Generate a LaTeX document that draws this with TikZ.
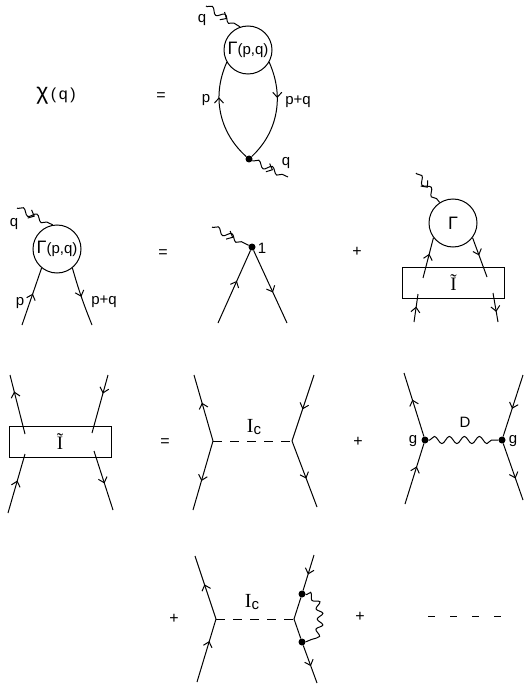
\documentclass[tikz,border=0pt]{standalone}
\usepackage{fontspec}
\setmainfont{Liberation Sans}
\newfontfamily\serfont{Liberation Serif}
\usetikzlibrary{arrows.meta,decorations.pathmorphing,decorations.markings}
\newcommand{\Itil}{{\serfont\fontsize{19}{20}\selectfont\~{I}}}
\newcommand{\Ic}{{\serfont\fontsize{20}{20}\selectfont I}\raisebox{-2pt}{c}}
\newcommand{\Gam}{{\fontsize{18}{18}\selectfont Γ}}
\begin{document}
\begin{tikzpicture}[x=1pt,y=-1pt,
    lab/.style={inner sep=0pt, font=\fontsize{15}{16}\selectfont},
    sym/.style={inner sep=0pt, font=\fontsize{16}{16}\selectfont},
    blob/.style={circle, draw, line width=1pt, minimum size=48pt, inner sep=0pt, font=\fontsize{15}{16}\selectfont},
    kbox/.style={rectangle, draw, line width=1pt, minimum width=102pt, minimum height=31pt, inner sep=0pt},
    vtx/.style={circle, fill=black, minimum size=7pt, inner sep=0pt},
    fline/.style={line width=1pt, postaction={decorate}, decoration={markings, mark=at position #1 with {\arrow{Straight Barb[length=5pt,width=9pt]}}}},
    fmark/.style={line width=1pt, postaction={decorate}, decoration={markings, mark=at position #1 with {\arrow{Straight Barb[length=5pt,width=9pt]}}}},
    wavy/.style={line width=1pt, decorate, decoration={snake, amplitude=3pt, segment length=15pt, pre length=1pt, post length=1pt}},
    cdash/.style={line width=0.8pt, dash pattern=on 9pt off 8pt}
  ]
  \useasboundingbox (0,0) rectangle (523,687);
  % first line
  \node[lab] (chi) at (56,96) {{\fontsize{23}{23}\selectfont χ}\,\fontsize{16}{16}\selectfont(\,q\,)};
  \node[sym] (eqa) at (161,97) {=};
  \node[blob] (ga) at (248,50) {\Gam(p,q)};
  \node[vtx] (va) at (249,159) {};
  \coordinate (wa) at (206,6);
  \coordinate (wb) at (288,177);
  \draw[wavy] (wa) -- (ga.109);
  \path[fmark=.62] (wa) -- (ga.109);
  \draw[wavy] (va) -- (wb);
  \path[fmark=.58] (va) -- (wb);
  \draw[fline=.65] (va) .. controls (222,135) and (210,100) .. (ga.210);
  \draw[fline=.36] (ga.330) .. controls (286,100) and (275,135) .. (va);
  \node[lab] (qa) at (202,20) {q};
  \node[lab] (pa) at (206,100) {p};
  \node[lab] (pqa) at (298,102) {p+q};
  \node[lab] (qb) at (286,163) {q};
  % second line
  \node[blob] (gb) at (57,249) {\Gam(p,q)};
  \coordinate (wc) at (17,208);
  \coordinate (la) at (22,325);
  \coordinate (lb) at (92,325);
  \draw[wavy] (wc) -- (gb.100);
  \path[fmark=.5] (wc) -- (gb.100);
  \draw[fline=.55] (la) -- (gb.231);
  \draw[fline=.5] (gb.309) .. controls (80,295) and (86,310) .. (lb);
  \node[lab] (qc) at (14,224) {q};
  \node[lab] (pb) at (20,303) {p};
  \node[lab] (pqb) at (104,302) {p+q};
  \node[sym] (eqb) at (163,254) {=};
  \node[vtx] (vb) at (252,247) {};
  \coordinate (wd) at (212,227);
  \coordinate (lc) at (218,323);
  \coordinate (ld) at (287,323);
  \draw[wavy] (wd) -- (vb);
  \path[fmark=.58] (wd) -- (vb);
  \draw[fline=.58] (lc) -- (vb);
  \draw[fline=.58] (vb) -- (ld);
  \node[lab] (one) at (262,248) {1};
  \node[sym] (pla) at (357,252) {+};
  \node[blob] (gc) at (453,223) {\Gam};
  \node[kbox] (ka) at (453.5,283) {\Itil};
  \coordinate (we) at (416,173);
  \coordinate (ia) at (423,278);
  \coordinate (ib) at (487,277);
  \coordinate (ic) at (418,294);
  \coordinate (id) at (414,322);
  \coordinate (ie) at (493,293);
  \coordinate (if) at (498,322);
  \draw[wavy] (we) -- (gc.123);
  \path[fmark=.5] (we) -- (gc.123);
  \draw[fline=.6] (ia) -- (gc.217);
  \draw[fline=.45] (gc.323) -- (ib);
  \draw[fline=.55] (id) -- (ic);
  \draw[fline=.65] (ie) -- (if);
  % third line
  \node[kbox] (kb) at (60,442) {\Itil};
  \coordinate (ja) at (25,434);
  \coordinate (jb) at (10,375);
  \coordinate (jc) at (108,375);
  \coordinate (jd) at (92,433);
  \coordinate (je) at (8,513);
  \coordinate (jf) at (25,454);
  \coordinate (jg) at (94,451);
  \coordinate (jh) at (113,510);
  \draw[fline=.72] (ja) -- (jb);
  \draw[fline=.32] (jc) -- (jd);
  \draw[fline=.55] (je) -- (jf);
  \draw[fline=.55] (jg) -- (jh);
  \node[sym] (eqc) at (165,443) {=};
  \coordinate (va1) at (213,441);
  \coordinate (va2) at (292,441);
  \coordinate (ka1) at (194,375);
  \coordinate (ka2) at (193,510);
  \coordinate (ka3) at (314,375);
  \coordinate (ka4) at (317,507);
  \draw[cdash] (va1) -- (va2);
  \draw[fline=.58] (va1) -- (ka1);
  \draw[fline=.58] (va1) -- (ka2);
  \draw[fline=.52] (ka3) -- (va2);
  \draw[fline=.57] (va2) -- (ka4);
  \node[lab] (ica) at (254,427) {\Ic};
  \node[sym] (plb) at (358,442) {+};
  \node[vtx] (vc) at (425,440) {};
  \node[vtx] (vd) at (502,440) {};
  \coordinate (kb1) at (404,373);
  \coordinate (kb2) at (405,504);
  \coordinate (kb3) at (523,375);
  \coordinate (kb4) at (523,500);
  \draw[wavy, decoration={snake, amplitude=3.6pt}] (vc) -- (vd);
  \draw[fline=.58] (vc) -- (kb1);
  \draw[fline=.62] (kb2) -- (vc);
  \draw[fline=.55] (kb3) -- (vd);
  \draw[fline=.62] (vd) -- (kb4);
  \node[lab] (d) at (465,422) {D};
  \node[lab] (ga1) at (413,441) {g};
  \node[lab] (ga2) at (513,441) {g};
  % fourth line
  \node[sym] (plc) at (174,619) {+};
  \coordinate (ve) at (216,619);
  \coordinate (vf) at (294,619);
  \coordinate (kc1) at (195,556);
  \coordinate (kc2) at (197,682);
  \coordinate (kc3) at (314,555);
  \coordinate (kc4) at (317,683);
  \node[vtx] (vg) at (302,594) {};
  \node[vtx] (vh) at (302,642) {};
  \draw[cdash] (ve) -- (vf);
  \draw[fline=.55] (ve) -- (kc1);
  \draw[fline=.65] (kc2) -- (ve);
  \draw[fline=.55] (kc3) -- (vg);
  \draw[line width=1pt] (vg) -- (vf) -- (vh);
  \draw[fline=.55] (vh) -- (kc4);
  \draw[wavy, decoration={snake, amplitude=3pt, segment length=11pt}] (vg) .. controls (322,596) and (322,640) .. (vh);
  \node[lab] (icb) at (252,602) {\Ic};
  \node[sym] (pld) at (360,617) {+};
  \coordinate (da) at (428,616);
  \coordinate (db) at (501,616);
  \draw[line width=0.8pt, dash pattern=on 7pt off 15pt] (da) -- (db);
\end{tikzpicture}
\end{document}
